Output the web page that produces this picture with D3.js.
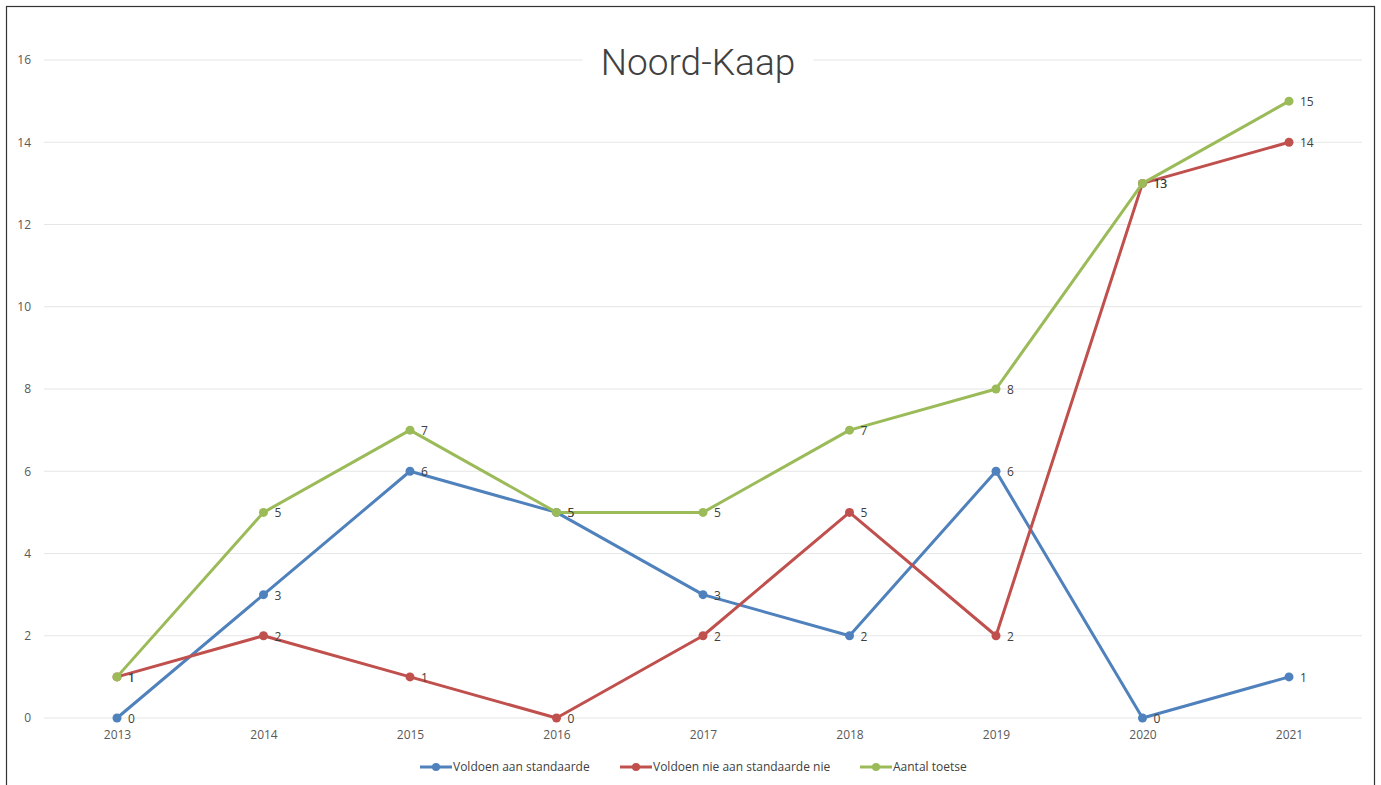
<!DOCTYPE html>
<meta charset="utf-8">
<style>
body { margin: 0; background: #fff; }
.tick text { font: 12px "Open Sans", sans-serif; fill: #595959; }
.lbl { font: 12px "Open Sans", sans-serif; fill: #404040; }
.legend text { font: 12px "Open Sans", sans-serif; fill: #404040; }
</style>
<svg width="1381" height="785"></svg>
<script src="https://d3js.org/d3.v7.min.js"></script>
<script>
var years = ["2013", "2014", "2015", "2016", "2017", "2018", "2019", "2020", "2021"];
var voldoen = [0, 3, 6, 5, 3, 2, 6, 0, 1];
var voldoenNie = [1, 2, 1, 0, 2, 5, 2, 13, 14];
var aantal = [1, 5, 7, 5, 5, 7, 8, 13, 15];
var seriesNames = ["Voldoen aan standaarde", "Voldoen nie aan standaarde nie", "Aantal toetse"];
var colors = ["#4f81bd", "#c0504d", "#9bbb59"];
var yTicks = [0, 2, 4, 6, 8, 10, 12, 14, 16];

var series = [voldoen, voldoenNie, aantal].map(function(v, i) {
  return { name: seriesNames[i], color: colors[i], values: v };
});

var svg = d3.select("svg");

// frame
svg.append("rect").attr("x", 6.5).attr("y", 6.5).attr("width", 1368).attr("height", 800)
  .attr("fill", "none").attr("stroke", "#333").attr("stroke-width", 1.2);

var x = d3.scalePoint().domain(years).range([117, 1289]);
var y = d3.scaleLinear().domain([0, 16]).range([718, 60]);

// gridlines
svg.append("g").selectAll("line").data(yTicks).enter().append("line")
  .attr("x1", 44).attr("x2", 1362)
  .attr("y1", function(d) { return y(d); }).attr("y2", function(d) { return y(d); })
  .attr("stroke", "#e6e6e6").attr("stroke-width", 1.2);

// y axis
var yAxis = svg.append("g").attr("transform", "translate(31,0)")
  .call(d3.axisLeft(y).tickValues(yTicks).tickSize(0).tickPadding(0));
yAxis.select(".domain").remove();

// x axis
var xAxis = svg.append("g").attr("transform", "translate(0,730)")
  .call(d3.axisBottom(x).tickSize(0).tickPadding(0));
xAxis.select(".domain").remove();
xAxis.selectAll("text").attr("dy", "0.71em");

// title with white background behind it
var titleBg = svg.append("rect").attr("fill", "#fff");
var title = svg.append("text").attr("x", 698).attr("y", 75)
  .attr("text-anchor", "middle")
  .style("font", "300 37px Roboto, sans-serif").style("fill", "#404040")
  .text("Noord-Kaap");
var bb = title.node().getBBox();
titleBg.attr("x", bb.x - 18).attr("y", 54).attr("width", bb.width + 36).attr("height", 12);

var line = d3.line()
  .x(function(d, i) { return x(years[i]); })
  .y(function(d) { return y(d); });

series.forEach(function(s) {
  var g = svg.append("g");
  g.append("path").datum(s.values).attr("d", line)
    .attr("fill", "none").attr("stroke", s.color).attr("stroke-width", 3)
    .attr("stroke-linejoin", "round");
  g.selectAll("circle").data(s.values).enter().append("circle")
    .attr("cx", function(d, i) { return x(years[i]); })
    .attr("cy", function(d) { return y(d); })
    .attr("r", 4.5).attr("fill", s.color);
  g.selectAll("text").data(s.values).enter().append("text")
    .attr("class", "lbl")
    .attr("x", function(d, i) { return x(years[i]) + 11; })
    .attr("y", function(d) { return y(d) + 5; })
    .text(function(d) { return d; });
});

// legend
var legendX = [420, 620, 860];
var legend = svg.append("g").attr("class", "legend");
series.forEach(function(s, i) {
  var lg = legend.append("g").attr("transform", "translate(" + legendX[i] + ",767)");
  lg.append("line").attr("x1", 0).attr("x2", 32).attr("stroke", s.color).attr("stroke-width", 3);
  lg.append("circle").attr("cx", 16).attr("r", 4).attr("fill", s.color);
  lg.append("text").attr("x", 33).attr("y", 4).text(s.name);
});
</script>
